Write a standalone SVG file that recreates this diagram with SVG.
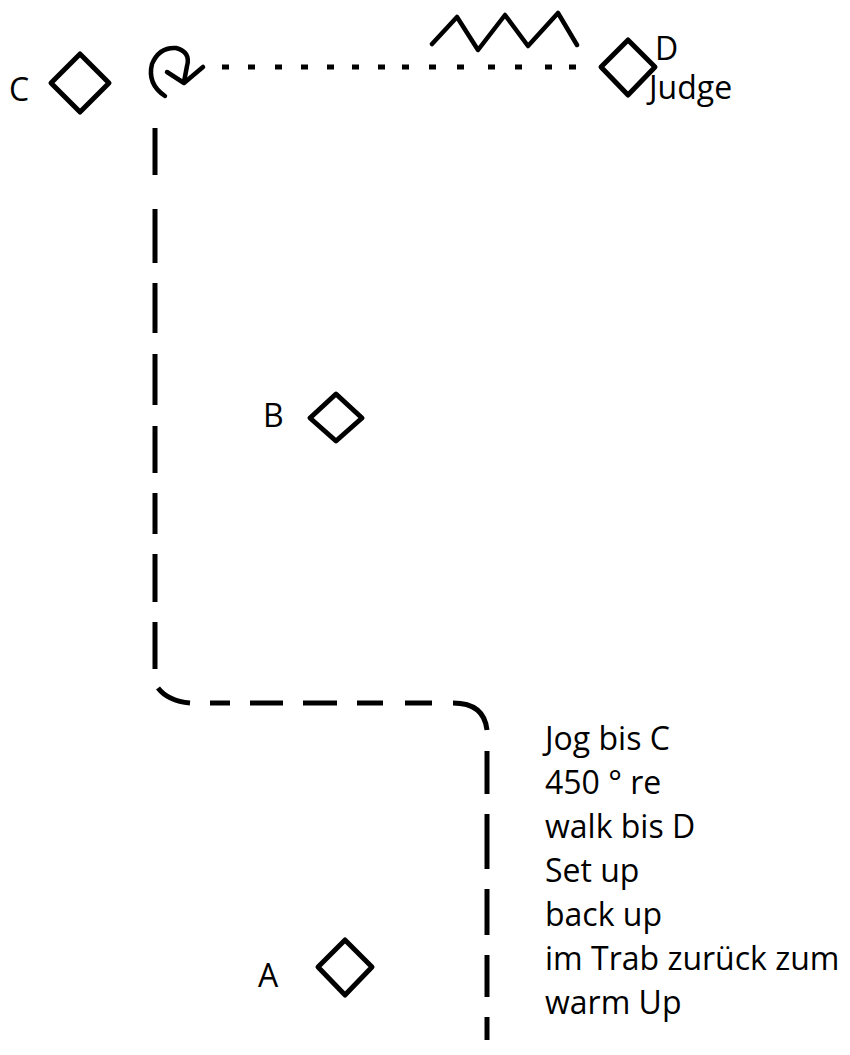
<svg xmlns="http://www.w3.org/2000/svg" width="850" height="1055" viewBox="0 0 850 1055">
  <style>
    .bg { fill: #ffffff; }
    .marker { fill: none; stroke: #000; stroke-width: 5; stroke-linejoin: round; }
    .route { fill: none; stroke: #000; stroke-width: 5; stroke-linecap: butt; }
    .stroke4 { fill: none; stroke: #000; stroke-width: 4.5; stroke-linecap: round; stroke-linejoin: round; }
    .lbl { font-family: "Open Sans", "Noto Sans", "Liberation Sans", sans-serif; font-size: 32px; fill: #000; }
  </style>

  <rect class="bg" x="0" y="0" width="850" height="1055"/>

  <!-- cones -->
  <g id="cone-C">
    <path class="marker" d="M80,54 L109,83 L80,112 L51,83 Z"/>
    <text class="lbl" x="9" y="101">C</text>
  </g>
  <g id="cone-D">
    <path class="marker" d="M628,40 L655,67 L628,95 L601,67 Z"/>
    <text class="lbl" x="655" y="60">D</text>
    <text class="lbl" x="649" y="99">Judge</text>
  </g>
  <g id="cone-B">
    <path class="marker" d="M336,394 L362,418 L336,441 L310,418 Z"/>
    <text class="lbl" x="263" y="427">B</text>
  </g>
  <g id="cone-A">
    <path class="marker" d="M345,940 L372,967 L345,995 L318,967 Z"/>
    <text class="lbl" x="258" y="987">A</text>
  </g>

  <!-- pattern route -->
  <g id="connectors">
    <!-- jog: down the left side, across, and down to the exit -->
    <path id="jog-route" class="route" d="
      M155,128 V175 M155,209 V263 M155,283 V333 M155,354 V405
      M155,426 V473 M155,493 V534 M155,554 V602 M155,622 V669
      M158,688 Q168,701 190,703
      M210,703 H230 M250,703 H283 M303,703 H337 M357,703 H383 M405,703 H432
      M453,703 Q484,703 487,730
      M487,751 V794 M487,814 V869 M487,889 V935 M487,955 V997 M487,1017 V1040"/>
    <!-- 450 degree turn at C -->
    <g id="turn">
      <path class="stroke4" d="M165,96 Q147,84 152,64 Q159,47 176,48 Q191,52 187,66 L184,82"/>
      <polyline class="stroke4" points="167,72 184,83 203,67"/>
    </g>
    <!-- walk to D -->
    <path id="walk-route" class="route" stroke-width="6" d="
      M222,67 h7 M248,67 h7 M275,67 h7 M301,67 h7 M327,67 h7 M352,67 h7 M378,67 h7
      M402,67 h7 M429,67 h7 M457,67 h7 M488,67 h7 M515,67 h7 M545,67 h7 M569,67 h7"/>
    <!-- back up -->
    <polyline id="backup" class="stroke4" points="432,44 457,17 478,50 505,15 528,46 558,13 577,45"/>
  </g>

  <!-- instructions -->
  <g id="notes">
    <text class="lbl" x="545" y="750">Jog bis C</text>
    <text class="lbl" x="545" y="794">450 ° re</text>
    <text class="lbl" x="545" y="838">walk bis D</text>
    <text class="lbl" x="545" y="882">Set up</text>
    <text class="lbl" x="545" y="926">back up</text>
    <text class="lbl" x="545" y="970">im Trab zurück zum</text>
    <text class="lbl" x="545" y="1014">warm Up</text>
  </g>
</svg>
